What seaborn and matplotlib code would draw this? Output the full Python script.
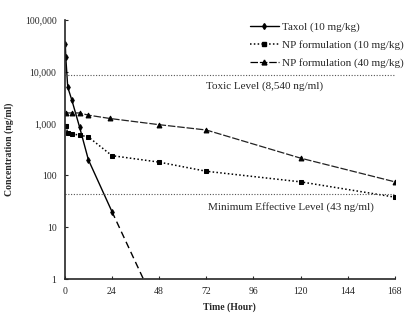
import numpy as np
import pandas as pd
import matplotlib
matplotlib.use('Agg')
import matplotlib.pyplot as plt
from matplotlib.lines import Line2D
from matplotlib.ticker import FixedLocator, FixedFormatter
import seaborn as sns

# =========================
# 1. DATA
# =========================
taxol_hours = [0.25, 0.5, 1.5, 3.5, 7.5, 12, 24]
taxol_conc = [34000, 19000, 5000, 2900, 860, 200, 20]
taxol_tail_hours = [24, 40]
taxol_tail_conc = [20, 1]

np10_hours = [0.5, 1.5, 3.5, 7.5, 12, 24, 48, 72, 120, 168]
np10_conc = [900, 660, 630, 600, 550, 240, 180, 120, 75, 38]

np40_hours = [0.5, 3.5, 7.5, 12, 23, 48, 72, 120, 168]
np40_conc = [1600, 1600, 1600, 1450, 1250, 950, 750, 215, 75]

toxic_level = 8540
min_effective_level = 43

x_ticks = [0, 24, 48, 72, 96, 120, 144, 168]
y_ticks = [1, 10, 100, 1000, 10000, 100000]
y_tick_labels = ['1', '10', '100', '1,000', '10,000', '100,000']

series_labels = ['Taxol (10 mg/kg)', 'NP formulation (10 mg/kg)', 'NP formulation (40 mg/kg)']

# =========================
# 2. STYLE
# =========================
sns.set_style('ticks')
plt.rcParams['font.family'] = ['Liberation Serif', 'DejaVu Serif']

fig = plt.figure(figsize=(4.05, 3.2), dpi=100)
ax = fig.add_axes([0.16, 0.128, 0.815, 0.81])

# =========================
# 3. LINES
# =========================
df_taxol = pd.DataFrame({'hour': taxol_hours, 'conc': taxol_conc})
df_tail = pd.DataFrame({'hour': taxol_tail_hours, 'conc': taxol_tail_conc})
df_np10 = pd.DataFrame({'hour': np10_hours, 'conc': np10_conc})
df_np40 = pd.DataFrame({'hour': np40_hours, 'conc': np40_conc})

sns.lineplot(data=df_taxol, x='hour', y='conc', ax=ax, color='black', lw=1.0,
             marker='d', markersize=3, markeredgecolor='black')
sns.lineplot(data=df_tail, x='hour', y='conc', ax=ax, color='black', lw=1.0,
             dashes=False, linestyle=(0, (5, 3)))
sns.lineplot(data=df_np10, x='hour', y='conc', ax=ax, color='black', lw=1.1,
             linestyle=(0, (1, 1.5)), marker='s', markersize=3, markeredgecolor='black')
sns.lineplot(data=df_np40, x='hour', y='conc', ax=ax, color='#222222', lw=0.9,
             linestyle=(0, (6, 1.5)), marker='^', markersize=3.5, markeredgecolor='black',
             markerfacecolor='black')

ax.axhline(toxic_level, color='#555555', lw=0.8, linestyle=(0, (1, 1.5)))
ax.axhline(min_effective_level, color='#555555', lw=0.8, linestyle=(0, (1, 1.5)))

ax.text(72, 5300, 'Toxic Level (8,540 ng/ml)', fontsize=8, va='center', ha='left')
ax.text(73, 24, 'Minimum Effective Level (43 ng/ml)', fontsize=8, va='center', ha='left')

# =========================
# 4. AXES
# =========================
ax.set_yscale('log')
ax.set_xlim(0, 168)
ax.set_ylim(1, 100000)
ax.xaxis.set_major_locator(FixedLocator(x_ticks))
ax.yaxis.set_major_locator(FixedLocator(y_ticks))
ax.yaxis.set_major_formatter(FixedFormatter(y_tick_labels))
ax.yaxis.set_minor_locator(FixedLocator([]))
ax.tick_params(axis='both', labelsize=7, direction='in', length=2.5, width=0.8, pad=6)

ax.set_xlabel('Time (Hour)', fontsize=7, fontweight='bold', labelpad=4)
ax.set_ylabel('Concentration (ng/ml)', fontsize=7, fontweight='bold', labelpad=8)
sns.despine(ax=ax)
for sp in ['left', 'bottom']:
    ax.spines[sp].set_linewidth(1.2)

# =========================
# 5. LEGEND
# =========================
handles = [
    Line2D([], [], color='black', lw=1.0, marker='d', markersize=3),
    Line2D([], [], color='black', lw=1.1, linestyle=(0, (1, 1.5)), marker='s', markersize=3),
    Line2D([], [], color='black', lw=0.9, linestyle=(0, (6, 1.5)), marker='^', markersize=3.5),
]
ax.legend(handles, series_labels, loc='upper right', bbox_to_anchor=(1.04, 1.01),
          frameon=False, fontsize=8, handlelength=2.6, handletextpad=0.3,
          labelspacing=0.75, borderaxespad=0)

fig.savefig('out.png', dpi=100)
